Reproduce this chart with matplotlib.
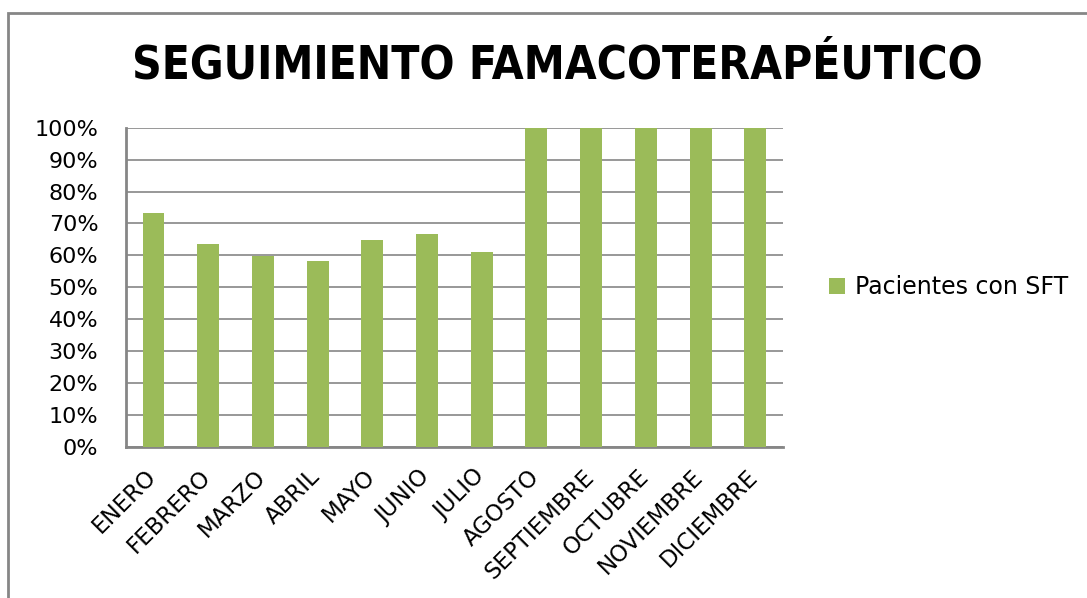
import matplotlib.pyplot as plt
from matplotlib.patches import Rectangle
from matplotlib.ticker import PercentFormatter
from matplotlib.transforms import ScaledTranslation

# Data
meses = ['ENERO', 'FEBRERO', 'MARZO', 'ABRIL', 'MAYO', 'JUNIO', 'JULIO',
         'AGOSTO', 'SEPTIEMBRE', 'OCTUBRE', 'NOVIEMBRE', 'DICIEMBRE']
pacientes_sft = [73.4, 63.6, 59.9, 58.3, 64.9, 66.8, 61.1,
                 100, 100, 100, 100, 100]
serie = 'Pacientes con SFT'
titulo = 'SEGUIMIENTO FAMACOTERAPÉUTICO'

plt.rcParams['font.family'] = ['DejaVu Sans']

fig = plt.figure(figsize=(10.87, 5.98), dpi=100)
ax = fig.add_axes([0.116, 0.2525, 0.604, 0.534])

x = range(len(meses))
ax.bar(x, pacientes_sft, width=0.4, color='#9BBB59', label=serie, zorder=3)

ax.set_xlim(-0.5, len(meses) - 0.5)
ax.set_ylim(0, 100)
ax.set_yticks(range(0, 101, 10))
ax.yaxis.set_major_formatter(PercentFormatter(decimals=0))
ax.yaxis.grid(True, color='#868686', linewidth=1.2, zorder=0)
ax.set_xticks(list(x))
ax.set_xticklabels(meses, rotation=45, ha='right', rotation_mode='anchor')
ax.tick_params(axis='both', length=0)
ax.tick_params(axis='y', labelsize=16, pad=20)
ax.tick_params(axis='x', labelsize=16.5, pad=8)
shift = ScaledTranslation(-9 / 100, -7 / 100, fig.dpi_scale_trans)
for lbl in ax.get_xticklabels():
    lbl.set_transform(lbl.get_transform() + shift)
for side in ['top', 'right']:
    ax.spines[side].set_visible(False)
for side in ['left', 'bottom']:
    ax.spines[side].set_color('#868686')
    ax.spines[side].set_linewidth(2)

ax.legend(loc='center left', bbox_to_anchor=(1.0, 0.5), frameon=False,
          fontsize=17, handlelength=0.7, handleheight=0.7, handletextpad=0.4,
          borderaxespad=1.55)

fig.text(0.513, 0.89, titulo, ha='center', va='center', fontsize=33,
         fontweight='bold', fontstretch='condensed')

# chart frame
fig.patches.append(Rectangle((8 / 1087, -0.1), 1.2, 1 - 13 / 598 + 0.1,
                             transform=fig.transFigure, fill=False,
                             edgecolor='#868686', linewidth=2))

fig.savefig('out.png', dpi=100)
